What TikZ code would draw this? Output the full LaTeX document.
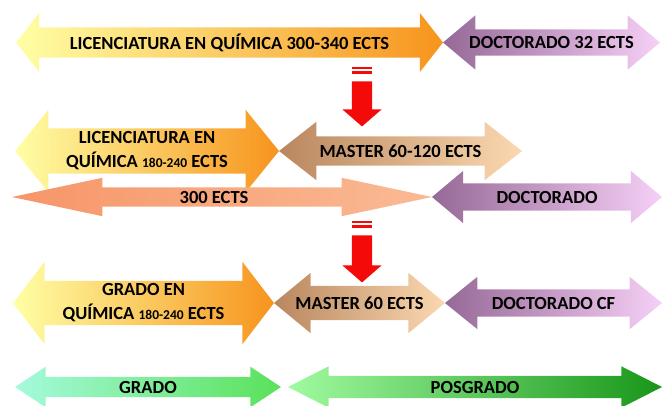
\documentclass[tikz,border=0pt]{standalone}
\usepackage{fontspec}
\setmainfont{Carlito}
\usetikzlibrary{shapes.arrows,positioning}

\definecolor{licL}{RGB}{255,255,165}
\definecolor{licR}{RGB}{247,148,29}
\definecolor{docL}{RGB}{150,105,150}
\definecolor{docM}{RGB}{228,188,228}
\definecolor{docR}{RGB}{246,208,246}
\definecolor{masL}{RGB}{185,135,95}
\definecolor{masM}{RGB}{240,195,150}
\definecolor{masR}{RGB}{251,216,176}
\definecolor{ectL}{RGB}{246,150,105}
\definecolor{ectR}{RGB}{250,186,148}
\definecolor{graL}{RGB}{165,250,220}
\definecolor{graR}{RGB}{90,225,90}
\definecolor{posL}{RGB}{160,250,160}
\definecolor{posM}{RGB}{100,228,100}
\definecolor{posR}{RGB}{25,150,25}
\definecolor{redA}{RGB}{245,10,10}

\begin{document}
\begin{tikzpicture}[
        x=1pt, y=-1pt,
        arrowbox/.style n args={4}{shape=double arrow, inner xsep=0pt, outer sep=0pt,
            double arrow head indent=0pt, minimum width=0pt,
            minimum height=#1, inner ysep=#2, double arrow head extend=#3,
            double arrow tip angle=#4},
        downarrow/.style={shape=single arrow, rotate=-90, inner xsep=0pt, outer sep=0pt,
            single arrow head indent=0pt, minimum width=0pt, minimum height=#1,
            inner ysep=10pt, single arrow head extend=9.5pt, single arrow tip angle=98,
            fill=redA},
        lic/.style ={left color=licL, right color=licR},
        doc/.style ={left color=docL, middle color=docM, right color=docR},
        master/.style ={left color=masL, middle color=masM, right color=masR},
        ects/.style ={left color=ectL, right color=ectR},
        grado/.style ={left color=graL, right color=graR},
        posgrado/.style ={left color=posL, middle color=posM, right color=posR},
        txt/.style ={font=\fontsize{18.5}{24}\selectfont\bfseries, align=center, text=black},
    ]
    \useasboundingbox (0,0) rectangle (664,406);

    % first row
    \node[arrowbox={427pt}{15pt}{14.5pt}{104}, lic] (lic1) at (229.5,42.5) {};
    \node[arrowbox={217pt}{13pt}{14pt}{80}, doc, right=0pt of lic1] (doc1) {};
    \node[txt] (lic1t) at (lic1) {LICENCIATURA EN QUÍMICA 300-340 ECTS};
    \node[txt] (doc1t) at (doc1) {DOCTORADO 32 ECTS};

    \fill[redA] (352,67) rectangle (372,69.5);
    \fill[redA] (352,71.5) rectangle (372,74.5);
    \node[downarrow=45pt] (down1) at (362,99.5) {};

    % second row
    \node[arrowbox={264pt}{22.5pt}{18.5pt}{102}, lic] (lic2) at (147,151) {};
    \node[arrowbox={243pt}{14.5pt}{14.5pt}{76}, master, right=0pt of lic2] (master2) {};
    \node[arrowbox={420pt}{9.5pt}{9.5pt}{24}, ects] (ects2) at (222,197) {};
    \node[arrowbox={230pt}{13.5pt}{12.5pt}{80}, doc, right=0pt of ects2] (doc2) {};
    \node[txt] (lic2t) at (lic2) {LICENCIATURA EN\\QUÍMICA {\fontsize{13.5}{13.5}\selectfont 180-240} ECTS};
    \node[txt] (master2t) at (master2) {MASTER 60-120 ECTS};
    \node[txt, xshift=-8pt] (ects2t) at (ects2) {300 ECTS};
    \node[txt] (doc2t) at (doc2) {DOCTORADO};

    \fill[redA] (352,221) rectangle (372,223.5);
    \fill[redA] (352,225.5) rectangle (372,228.5);
    \node[downarrow=47pt] (down2) at (362,254.5) {};

    % third row
    \node[arrowbox={261pt}{22pt}{19pt}{105}, lic] (grado3) at (143.5,303) {};
    \node[arrowbox={171pt}{17pt}{13pt}{79}, master, right=0pt of grado3] (master3) {};
    \node[arrowbox={217pt}{13.5pt}{12.5pt}{78}, doc, right=0pt of master3] (doc3) {};
    \node[txt] (grado3t) at (grado3) {GRADO EN\\QUÍMICA {\fontsize{13.5}{13.5}\selectfont 180-240} ECTS};
    \node[txt] (master3t) at (master3) {MASTER 60 ECTS};
    \node[txt] (doc3t) at (doc3) {DOCTORADO CF};

    % last row
    \node[arrowbox={266pt}{10pt}{10pt}{67}, grado] (grado4) at (148,387) {};
    \node[arrowbox={374pt}{11pt}{9.5pt}{54}, posgrado, right=7pt of grado4] (pos4) {};
    \node[txt] (grado4t) at (grado4) {GRADO};
    \node[txt] (pos4t) at (pos4) {POSGRADO};
\end{tikzpicture}
\end{document}
